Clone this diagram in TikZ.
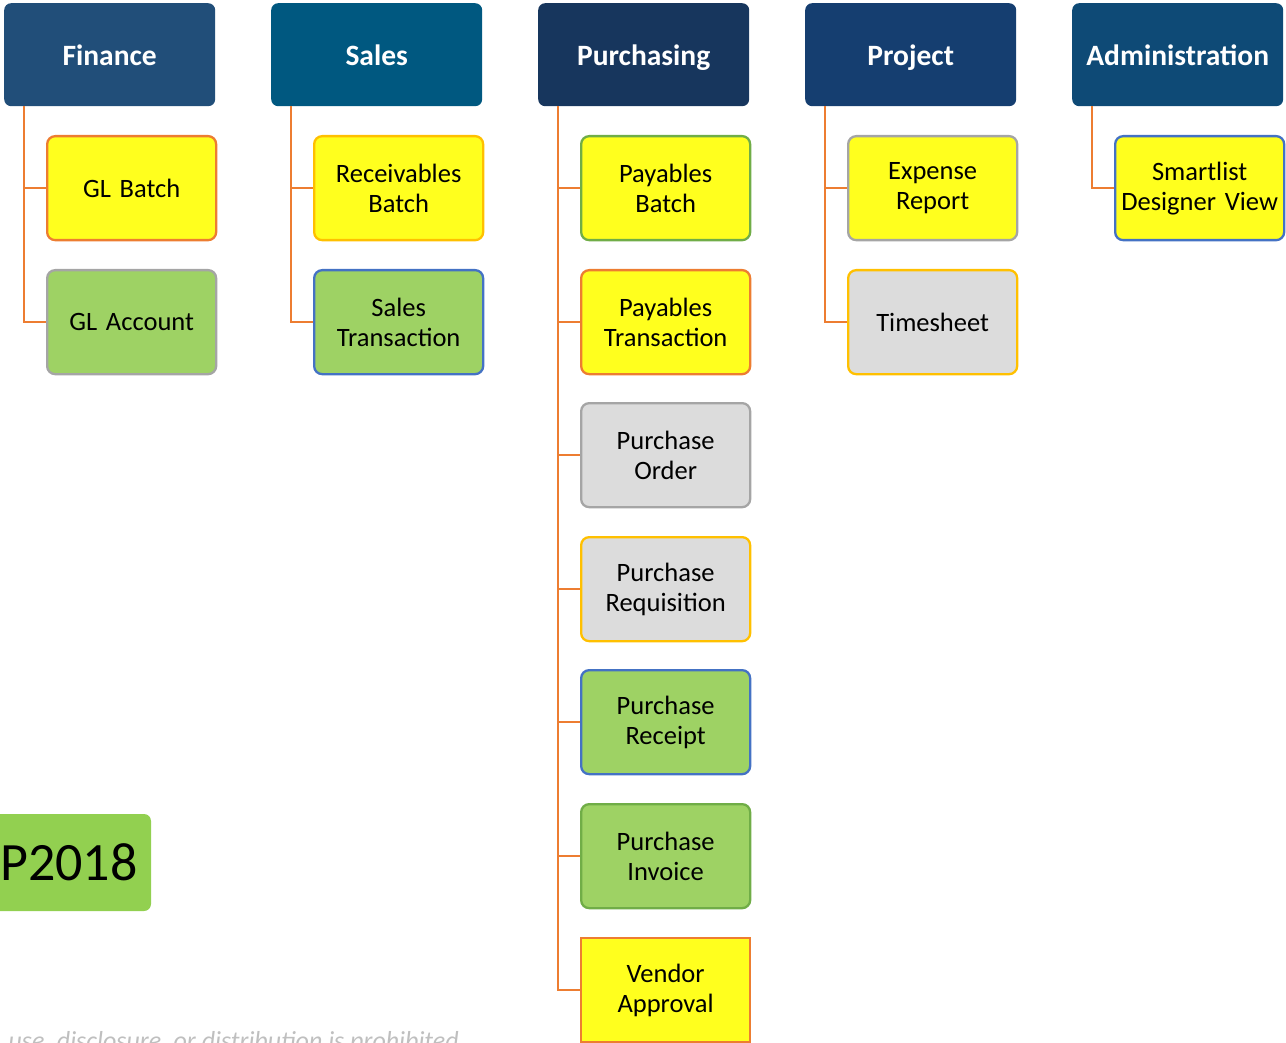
\documentclass[tikz,border=0pt]{standalone}
\usepackage{fontspec}
\setmainfont{Carlito}
\usepackage{xcolor}
\usetikzlibrary{positioning}

\definecolor{finblue}{RGB}{33,78,121}
\definecolor{salesblue}{RGB}{0,88,128}
\definecolor{purchblue}{RGB}{23,54,93}
\definecolor{projblue}{RGB}{21,62,112}
\definecolor{adminblue}{RGB}{14,74,118}
\definecolor{boxyellow}{RGB}{255,255,30}
\definecolor{boxgreen}{RGB}{158,210,100}
\definecolor{boxgrey}{RGB}{220,220,220}
\definecolor{edgeorange}{RGB}{237,125,49}
\definecolor{edgegrey}{RGB}{165,165,165}
\definecolor{edgeblue}{RGB}{68,114,196}
\definecolor{edgegold}{RGB}{255,192,0}
\definecolor{edgegreen}{RGB}{112,173,71}
\definecolor{yeargreen}{RGB}{146,208,80}

\begin{document}
\begin{tikzpicture}[x=1pt, y=-1pt,
    hdr/.style={rectangle, rounded corners=7pt, anchor=north west, minimum width=211pt, minimum height=103pt, text height=21pt, text depth=0pt, text=white, font=\fontsize{29.5}{34}\selectfont\bfseries},
    item/.style={rectangle, rounded corners=8pt, draw, line width=2.3pt, anchor=north west, minimum width=169pt, minimum height=104pt, text width=167pt, inner sep=0pt, align=center, font=\fontsize{26.5}{30}\selectfont},
    link/.style={draw=edgeorange, line width=2pt}]
    \useasboundingbox (0,0) rectangle (1286,1043);

    % Headers
    \node (fin) [hdr, fill=finblue] at (4,3) {Finance};
    \node (sales) [hdr, fill=salesblue] at (271,3) {Sales};
    \node (purch) [hdr, fill=purchblue] at (538,3) {Purchasing};
    \node (proj) [hdr, fill=projblue] at (805,3) {Project};
    \node (admin) [hdr, fill=adminblue] at (1072,3) {Administration};

    % Finance
    \node (glbatch) [item, fill=boxyellow, draw=edgeorange] at (46,135) {GL Batch};
    \node (glacct) [item, fill=boxgreen, draw=edgegrey] at (46,269) {GL Account};

    % Sales
    \node (recbatch) [item, fill=boxyellow, draw=edgegold] at (313,135) {Receivables\\Batch};
    \node (salestrx) [item, fill=boxgreen, draw=edgeblue] at (313,269) {Sales\\Transaction};

    % Purchasing
    \node (paybatch) [item, fill=boxyellow, draw=edgegreen] at (580,135) {Payables\\Batch};
    \node (paytrx) [item, fill=boxyellow, draw=edgeorange] at (580,269) {Payables\\Transaction};
    \node (porder) [item, fill=boxgrey, draw=edgegrey] at (580,402) {Purchase\\Order};
    \node (preq) [item, fill=boxgrey, draw=edgegold] at (580,536) {Purchase\\Requisition};
    \node (preceipt) [item, fill=boxgreen, draw=edgeblue] at (580,669) {Purchase\\Receipt};
    \node (pinvoice) [item, fill=boxgreen, draw=edgegreen] at (580,803) {Purchase\\Invoice};
    \node (vendor) [item, fill=boxyellow, draw=edgeorange, rounded corners=0pt] at (580,937) {Vendor\\Approval};

    % Project
    \node (expense) [item, fill=boxyellow, draw=edgegrey] at (847,135) {Expense\\Report};
    \node (timesheet) [item, fill=boxgrey, draw=edgegold] at (847,269) {Timesheet};

    % Administration
    \node (smartlist) [item, fill=boxyellow, draw=edgeblue] at (1114,135) {Smartlist\\Designer View};

    % Edges
    \foreach \from/\to in {fin/glbatch, fin/glacct, sales/recbatch, sales/salestrx,
        purch/paybatch, purch/paytrx, purch/porder, purch/preq, purch/preceipt,
        purch/pinvoice, purch/vendor, proj/expense, proj/timesheet, admin/smartlist}
        \draw[link] ([xshift=20pt]\from.south west) |- (\to.west);

    % Footer
    \node (year) [rectangle, rounded corners=7pt, fill=yeargreen, minimum width=164pt, minimum height=97pt, inner sep=0pt, font=\fontsize{54}{58}\selectfont] at (69,862.5) {P2018};
    \node (notice) [anchor=base east, text=black!25, inner sep=0pt, font=\fontsize{26}{30}\selectfont\itshape] at (459,1049) {use, disclosure, or distribution is prohibited};
\end{tikzpicture}
\end{document}
